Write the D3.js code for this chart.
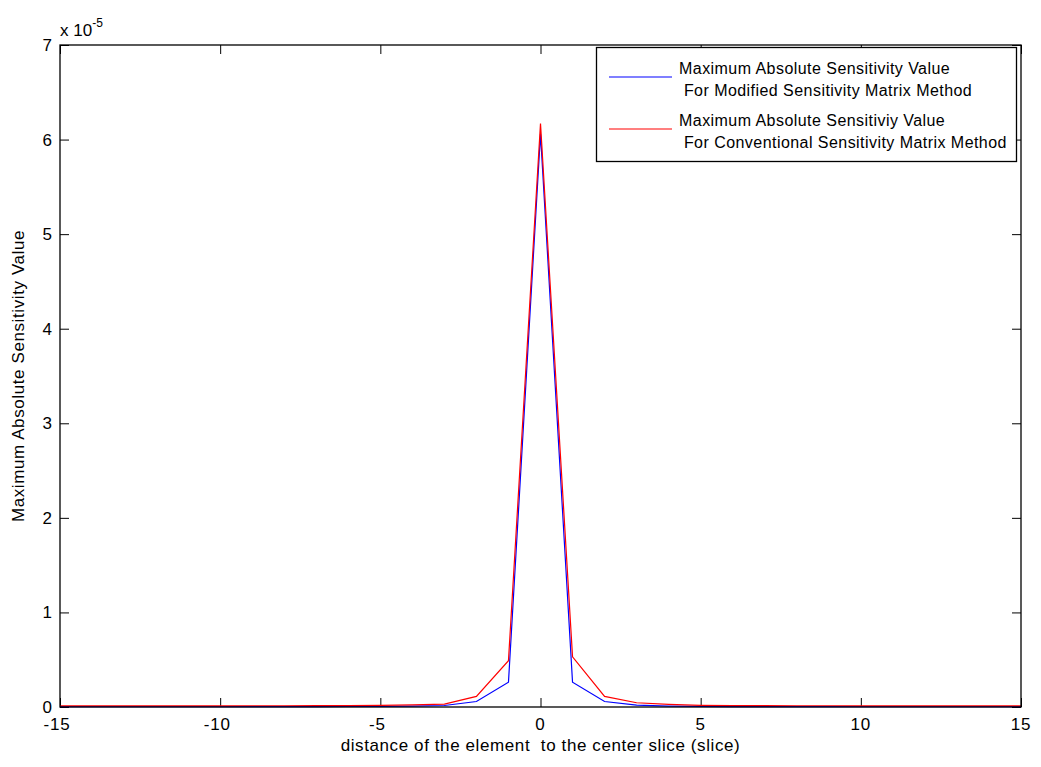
<!DOCTYPE html>
<html>
<head>
<meta charset="utf-8">
<script src="https://cdn.jsdelivr.net/npm/d3@7"></script>
<style>
	body { margin: 0; background: #fff; }
	text { font-family: "Liberation Sans", Arial, sans-serif; fill: #000; }
</style>
</head>
<body>
<script>

// distance to the center slice, -15..15
var xs = d3.range(-15, 16);

// values in units of 1e-5
var modified = [0.003, 0.003, 0.003, 0.003, 0.003, 0.003, 0.004, 0.004, 0.005, 0.006,
	0.007, 0.010, 0.016, 0.058, 0.262, 6.06, 0.262, 0.058, 0.020, 0.010,
	0.006, 0.005, 0.004, 0.004, 0.003, 0.003, 0.003, 0.003, 0.003, 0.003, 0.003];
var conventional = [0.012, 0.012, 0.012, 0.012, 0.012, 0.012, 0.013, 0.013, 0.014, 0.015,
	0.017, 0.022, 0.030, 0.112, 0.49, 6.17, 0.53, 0.112, 0.045, 0.028,
	0.018, 0.015, 0.014, 0.013, 0.013, 0.012, 0.012, 0.012, 0.012, 0.012, 0.012];

var xTicks = [-15, -10, -5, 0, 5, 10, 15];
var yTicks = [0, 1, 2, 3, 4, 5, 6, 7];

var legendLabels = [
	['Maximum Absolute Sensitivity Value', ' For Modified Sensitivity Matrix Method'],
	['Maximum Absolute Sensitiviy Value', ' For Conventional Sensitivity Matrix Method']
];
var colors = ['#0000ff', '#ff0000'];

(function(){

	var w = 1041;
	var h = 767;
	var left = 60, right = 1021, top = 45, bottom = 707;

	var svg = d3.select('body')
				.append('svg')
				.attr('width', w)
				.attr('height', h);

	var x = d3.scaleLinear().domain([-15, 15]).range([left, right]);
	var y = d3.scaleLinear().domain([0, 7]).range([bottom, top]);

	// ticks, inward on all four sides
	var tl = 9;
	svg.append('g')
		.attr('transform', 'translate(0,' + bottom + ')')
		.call(d3.axisTop(x).tickValues(xTicks).tickSize(tl).tickFormat(''))
		.call(function(g){ g.select('.domain').remove(); });
	svg.append('g')
		.attr('transform', 'translate(0,' + top + ')')
		.call(d3.axisBottom(x).tickValues(xTicks).tickSize(tl).tickFormat(''))
		.call(function(g){ g.select('.domain').remove(); });
	svg.append('g')
		.attr('transform', 'translate(' + left + ',0)')
		.call(d3.axisRight(y).tickValues(yTicks).tickSize(tl).tickFormat(''))
		.call(function(g){ g.select('.domain').remove(); });
	svg.append('g')
		.attr('transform', 'translate(' + right + ',0)')
		.call(d3.axisLeft(y).tickValues(yTicks).tickSize(tl).tickFormat(''))
		.call(function(g){ g.select('.domain').remove(); });
	svg.selectAll('.tick line').attr('stroke', '#000');

	// tick labels
	svg.selectAll('.xlab')
		.data(xTicks)
		.enter()
		.append('text')
		.attr('x', function(d){ return x(d) - (d < 0 ? 3 : 0); })
		.attr('y', bottom + 23)
		.attr('text-anchor', 'middle')
		.style('font-size', '17px')
		.style('letter-spacing', '0.8px')
		.text(function(d){ return d; });

	svg.selectAll('.ylab')
		.data(yTicks)
		.enter()
		.append('text')
		.attr('x', left - 8)
		.attr('y', function(d){ return y(d) + 6; })
		.attr('text-anchor', 'end')
		.style('font-size', '17px')
		.text(function(d){ return d; });

	// exponent
	var ex = svg.append('text')
		.attr('x', left)
		.attr('y', top - 9)
		.style('font-size', '17px');
	ex.append('tspan').text('x 10');
	ex.append('tspan').attr('dy', -9).style('font-size', '12px').text('-5');

	// axis titles
	svg.append('text')
		.attr('x', (left + right) / 2)
		.attr('y', 751)
		.attr('text-anchor', 'middle')
		.style('font-size', '17px')
		.style('letter-spacing', '0.6px')
		.style('white-space', 'pre')
		.text('distance of the element  to the center slice (slice)');

	svg.append('text')
		.attr('transform', 'translate(24,' + (top + bottom) / 2 + ') rotate(-90)')
		.attr('text-anchor', 'middle')
		.style('font-size', '17px')
		.style('letter-spacing', '0.6px')
		.text('Maximum Absolute Sensitivity Value');

	// data lines
	var line = d3.line()
		.x(function(d){ return x(d[0]); })
		.y(function(d){ return y(d[1]); });

	[modified, conventional].forEach(function(series, i){
		svg.append('path')
			.datum(xs.map(function(v, j){ return [v, series[j]]; }))
			.attr('fill', 'none')
			.attr('stroke', colors[i])
			.attr('stroke-width', 1.2)
			.attr('d', line);
	});

	// box
	svg.append('rect')
		.attr('x', left)
		.attr('y', top)
		.attr('width', right - left)
		.attr('height', bottom - top)
		.attr('fill', 'none')
		.attr('stroke', '#000')
		.attr('stroke-width', 1.3);

	// legend
	var lg = svg.append('g');
	lg.append('rect')
		.attr('x', 596.5)
		.attr('y', 47.5)
		.attr('width', 420)
		.attr('height', 114)
		.attr('fill', '#fff')
		.attr('stroke', '#000')
		.attr('stroke-width', 1.3);

	legendLabels.forEach(function(lines, i){
		var cy = 77 + i * 52;
		lg.append('line')
			.attr('x1', 609)
			.attr('x2', 672)
			.attr('y1', cy)
			.attr('y2', cy)
			.attr('stroke', colors[i])
			.attr('stroke-width', 1.2);
		lines.forEach(function(t, k){
			lg.append('text')
				.attr('x', 679)
				.attr('y', cy - 3 + k * 22)
				.style('font-size', '16px')
				.style('letter-spacing', '0.45px')
				.style('white-space', 'pre')
				.text(t);
		});
	});

})();
</script>
</body>
</html>
